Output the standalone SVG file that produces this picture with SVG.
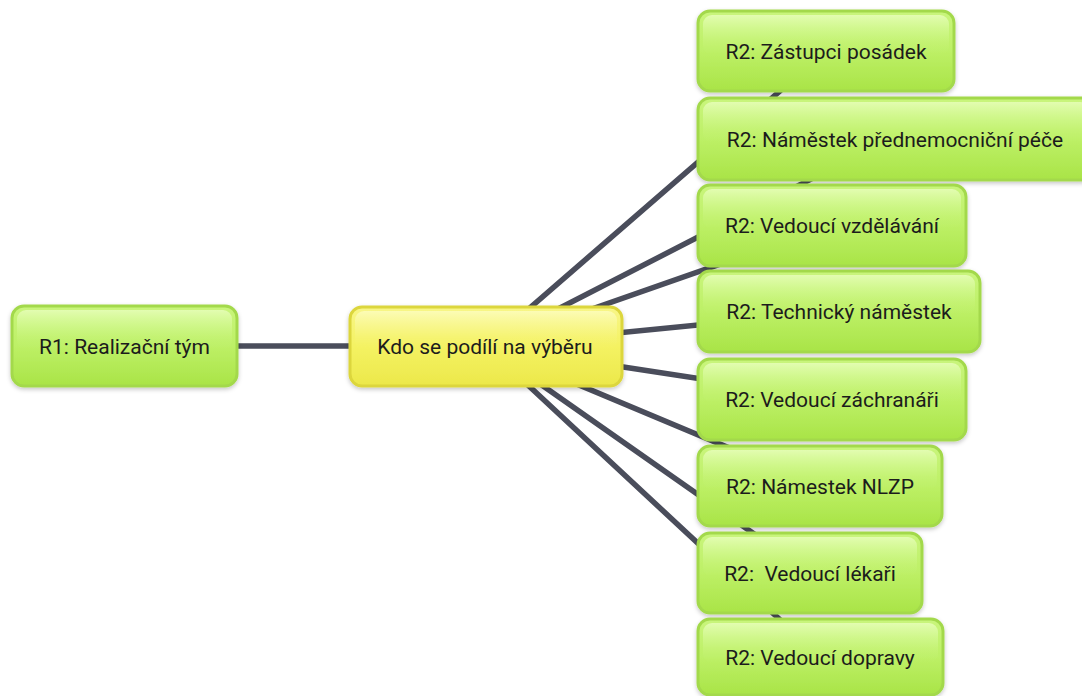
<svg xmlns="http://www.w3.org/2000/svg" width="1082" height="696" viewBox="0 0 1082 696">
  <defs>
    <linearGradient id="gGreen" x1="0" y1="0" x2="0" y2="1">
      <stop offset="0" stop-color="#c9f57c"/>
      <stop offset="0.5" stop-color="#bdf066"/>
      <stop offset="1" stop-color="#a9e447"/>
    </linearGradient>
    <linearGradient id="gGreenHi" x1="0" y1="0" x2="0" y2="1">
      <stop offset="0" stop-color="#e4fdb4" stop-opacity="0.95"/>
      <stop offset="0.45" stop-color="#d6fa98" stop-opacity="0.5"/>
      <stop offset="1" stop-color="#c4f272" stop-opacity="0"/>
    </linearGradient>
    <linearGradient id="gYellow" x1="0" y1="0" x2="0" y2="1">
      <stop offset="0" stop-color="#f8f688"/>
      <stop offset="0.5" stop-color="#f4f262"/>
      <stop offset="1" stop-color="#ece84a"/>
    </linearGradient>
    <linearGradient id="gYellowHi" x1="0" y1="0" x2="0" y2="1">
      <stop offset="0" stop-color="#fcfcb8" stop-opacity="0.95"/>
      <stop offset="0.45" stop-color="#f9f898" stop-opacity="0.5"/>
      <stop offset="1" stop-color="#f4f262" stop-opacity="0"/>
    </linearGradient>
    <filter id="shadow" x="-10%" y="-20%" width="120%" height="150%">
      <feDropShadow dx="0" dy="2" stdDeviation="2" flood-color="#000" flood-opacity="0.22"/>
    </filter>
  </defs>
  <style>
    .edge { stroke: #4a4d5b; stroke-width: 5.5; stroke-linecap: round; fill: none; }
    .box { fill: url(#gGreen); stroke: #a3d94c; stroke-width: 3; filter: url(#shadow); }
    .hi { fill: url(#gGreenHi); }
    .root { fill: url(#gYellow); stroke: #dcd63c; stroke-width: 3; filter: url(#shadow); }
    .rootHi { fill: url(#gYellowHi); }
    .lbl { font-family: Roboto, "Liberation Sans", sans-serif; font-size: 21px; fill: #1c1c1c; text-anchor: middle; }
  </style>
  <rect width="1082" height="696" fill="#ffffff"/>

  <!-- connectors from the central topic to every branch -->
  <g id="connectors">
    <line class="edge" x1="486" y1="346" x2="124" y2="346"/>
    <line class="edge" x1="486" y1="346" x2="826" y2="51"/>
    <line class="edge" x1="486" y1="346" x2="889" y2="139"/>
    <line class="edge" x1="486" y1="346" x2="832" y2="225"/>
    <line class="edge" x1="486" y1="346" x2="839" y2="311"/>
    <line class="edge" x1="486" y1="346" x2="832" y2="399"/>
    <line class="edge" x1="486" y1="346" x2="820" y2="486"/>
    <line class="edge" x1="486" y1="346" x2="810" y2="573"/>
    <line class="edge" x1="486" y1="346" x2="820" y2="657"/>
  </g>

  <g id="n-r1">
    <rect class="box" x="12" y="306" width="225" height="80" rx="12"/>
    <rect class="hi" x="17" y="310" width="215" height="40" rx="9"/>
    <text class="lbl" x="124.5" y="353.5">R1: Realizační tým</text>
  </g>

  <g id="n-center">
    <rect class="root" x="350" y="307" width="272" height="79" rx="12"/>
    <rect class="rootHi" x="355" y="311" width="262" height="40" rx="9"/>
    <text class="lbl" x="485" y="353.5">Kdo se podílí na výběru</text>
  </g>

  <g id="n-zastupci">
    <rect class="box" x="698" y="11" width="256" height="80" rx="12"/>
    <rect class="hi" x="703" y="15" width="246" height="40" rx="9"/>
    <text class="lbl" x="826" y="58.5">R2: Zástupci posádek</text>
  </g>

  <g id="n-namestek-pnp">
    <rect class="box" x="698" y="98" width="396" height="82" rx="12"/>
    <rect class="hi" x="703" y="102" width="386" height="41" rx="9"/>
    <text class="lbl" x="895" y="146.5">R2: Náměstek přednemocniční péče</text>
  </g>

  <g id="n-vzdelavani">
    <rect class="box" x="698" y="185" width="268" height="81" rx="12"/>
    <rect class="hi" x="703" y="189" width="258" height="40" rx="9"/>
    <text class="lbl" x="832" y="232.5">R2: Vedoucí vzdělávání</text>
  </g>

  <g id="n-technicky">
    <rect class="box" x="698" y="271" width="282" height="81" rx="12"/>
    <rect class="hi" x="703" y="275" width="272" height="40" rx="9"/>
    <text class="lbl" x="839" y="318.5">R2: Technický náměstek</text>
  </g>

  <g id="n-zachranari">
    <rect class="box" x="698" y="359" width="268" height="81" rx="12"/>
    <rect class="hi" x="703" y="363" width="258" height="40" rx="9"/>
    <text class="lbl" x="832" y="406.5">R2: Vedoucí záchranáři</text>
  </g>

  <g id="n-nlzp">
    <rect class="box" x="698" y="446" width="244" height="80" rx="12"/>
    <rect class="hi" x="703" y="450" width="234" height="40" rx="9"/>
    <text class="lbl" x="820" y="493.5">R2: Námestek NLZP</text>
  </g>

  <g id="n-lekari">
    <rect class="box" x="698" y="533" width="224" height="80" rx="12"/>
    <rect class="hi" x="703" y="537" width="214" height="40" rx="9"/>
    <text class="lbl" x="810" y="580.5" xml:space="preserve">R2:  Vedoucí lékaři</text>
  </g>

  <g id="n-doprava">
    <rect class="box" x="698" y="619" width="245" height="76" rx="12"/>
    <rect class="hi" x="703" y="623" width="235" height="40" rx="9"/>
    <text class="lbl" x="820" y="664.5">R2: Vedoucí dopravy</text>
  </g>
</svg>
